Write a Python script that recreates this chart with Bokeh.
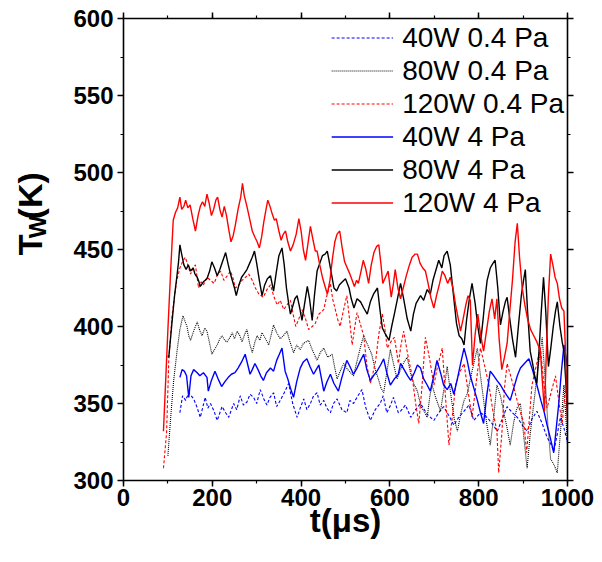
import math
from bokeh.plotting import figure
from bokeh.layouts import row
from bokeh.models import Range1d, SingleIntervalTicker, LinearAxis, Legend, LegendItem, Label
from bokeh.embed import file_html
from bokeh.resources import INLINE

# ---------------- data ----------------
t_40w_04 = [127,133,140,147,158,165,173,184,190,196,204,211,222,230,237,248,255,263,270,278,285,293,300,308,316,323,330,338,345,353,362,372,381,391,398,406,413,421,428,436,443,451,458,466,473,481,492,503,510,518,528,537,546,556,567,578,585,593,600,608,619,624,635,647,658,669,684,699,710,721,733,744,755,767,778,789,804,819,830,842,853,864,876,887,898,909,920,931,943,954,962,969,977,984,992,1000]
y_40w_04 = [344,355,352,357,353,348,341,354,347,350,345,339,348,344,341,350,346,355,349,351,356,354,350,359,353,349,354,357,348,352,357,363,350,341,347,353,346,350,355,357,349,352,347,344,350,353,346,344,352,350,355,359,347,339,346,350,355,344,348,354,344,345,349,341,346,350,343,339,344,348,342,336,341,345,349,339,344,341,337,332,340,348,344,341,336,332,340,345,337,328,324,319,330,341,334,325]

t_80w_04 = [100,106,113,121,127,134,139,143,147,151,158,166,171,177,183,188,194,199,205,211,217,222,228,233,240,245,250,256,262,267,273,278,284,290,296,301,307,312,320,327,333,338,345,353,360,368,375,383,390,398,405,417,425,436,443,451,460,470,476,481,488,496,505,518,528,535,541,550,559,567,574,580,586,594,601,608,616,624,632,639,647,655,662,670,677,684,690,695,703,714,722,729,737,745,752,760,767,774,785,797,804,812,819,826,834,841,849,856,864,871,879,886,894,901,909,916,924,933,943,950,956,962,970,977,985,992,1000]
y_80w_04 = [316,340,365,385,398,407,403,400,394,391,397,403,398,394,399,397,389,382,385,388,392,394,391,390,393,396,392,397,394,390,395,398,389,383,390,394,391,396,392,388,395,401,396,392,394,397,390,383,388,385,389,391,385,378,383,386,380,382,373,366,371,376,372,368,380,388,394,388,382,372,366,360,357,372,385,376,366,372,377,380,369,362,358,348,345,341,355,362,354,345,360,374,356,340,332,344,352,356,371,386,368,350,335,323,342,362,355,345,334,323,338,347,350,330,308,330,350,372,393,365,335,314,310,305,335,362,323]

t_120w_04 = [90,97,102,109,115,120,127,133,139,145,151,157,162,169,175,180,188,196,204,211,219,226,234,241,247,252,260,267,275,282,290,297,305,315,323,331,338,346,353,361,368,376,382,388,395,402,410,417,425,432,440,451,458,466,471,477,483,488,495,503,509,515,520,526,533,541,548,556,562,568,575,583,589,594,602,610,615,619,625,631,640,650,658,665,672,680,690,699,708,718,725,733,740,748,757,767,776,785,795,804,813,823,832,841,845,852,858,864,872,883,893,902,908,914,920,930,939,946,954,962,973,981,988,994,1000]
y_120w_04 = [308,331,378,406,420,430,438,442,445,440,434,438,440,425,429,427,432,430,428,433,436,430,433,436,431,425,427,430,432,434,430,425,421,419,424,427,420,414,417,411,414,417,408,400,405,411,405,398,400,402,408,411,420,428,418,411,404,400,410,420,405,388,398,409,402,394,375,363,370,378,395,408,398,386,390,393,384,376,388,397,382,368,350,337,360,393,378,362,375,386,355,323,340,362,370,376,358,341,365,386,375,362,345,332,305,330,360,376,368,356,345,337,318,340,362,375,386,365,347,356,368,350,337,355,362]

t_40w_4 = [127,132,137,142,147,152,158,166,172,180,188,191,198,206,213,221,228,236,243,251,258,266,274,280,285,290,296,303,309,315,322,331,338,345,351,357,364,370,376,383,390,398,405,413,420,428,434,440,446,451,458,466,474,484,491,497,503,510,518,526,534,541,548,556,563,571,579,586,593,601,610,619,624,632,640,647,655,662,669,676,684,691,699,706,714,721,729,737,744,752,760,767,774,781,789,797,804,811,818,826,834,841,849,857,864,871,879,887,894,903,913,921,931,940,947,954,961,969,975,980,986,992,1000]
y_40w_4 = [367,372,371,368,354,368,372,370,368,370,367,358,365,371,366,361,364,367,369,370,373,377,382,375,369,372,376,372,368,365,370,373,371,378,382,386,371,366,360,354,364,373,377,379,374,369,372,375,366,358,364,369,363,358,366,372,378,374,369,373,378,382,372,365,368,371,375,379,370,362,366,369,376,372,368,365,370,375,373,366,362,358,368,378,370,362,359,363,356,366,377,386,378,368,360,352,344,337,355,371,368,365,362,358,355,352,360,368,373,376,379,372,362,352,345,336,328,318,335,349,370,388,374]

t_80w_4 = [100,102,110,115,120,124,127,131,136,141,146,151,157,161,166,170,173,180,188,194,199,205,211,217,224,230,236,241,245,250,254,260,266,271,278,284,290,295,300,306,312,318,324,331,338,344,350,357,362,367,372,376,381,386,391,397,402,408,414,419,425,430,436,442,448,454,459,466,474,480,486,493,500,508,513,519,526,534,541,549,556,563,572,578,583,590,598,604,610,617,624,631,639,647,653,659,669,676,684,691,697,704,710,717,722,729,736,744,750,756,762,767,773,779,785,792,798,804,810,815,819,826,832,837,843,849,855,860,864,870,876,883,890,896,901,905,910,916,922,926,931,936,941,946,951,957,962,968,973,977,983,988,992,996,1000]
y_80w_4 = [381,380,405,420,432,442,453,447,440,437,440,436,438,434,432,429,426,429,431,436,442,438,433,437,443,448,440,434,430,425,420,427,432,434,437,441,445,449,441,430,420,427,431,433,423,435,446,451,440,425,415,408,413,418,420,412,404,415,426,418,404,420,436,441,446,447,449,438,425,423,427,429,431,425,418,412,418,416,412,408,416,421,425,410,399,395,391,400,408,418,428,418,405,397,408,415,420,417,424,421,430,437,443,438,446,449,440,418,402,394,392,388,405,418,428,415,400,389,405,420,430,438,441,443,425,401,410,416,419,405,392,380,402,420,430,437,410,384,375,368,363,385,410,432,410,374,385,400,410,416,400,390,384,365,342]

t_120w_4 = [90,95,100,106,112,117,122,127,131,136,140,145,150,156,162,168,173,178,183,188,193,198,203,208,212,217,222,227,232,237,242,247,252,258,264,268,272,278,284,290,296,301,306,311,316,321,325,330,335,340,344,350,355,360,365,370,376,382,389,395,400,405,410,416,421,427,432,436,442,448,454,459,465,471,476,481,487,492,498,504,510,515,520,525,529,535,540,546,552,558,564,570,575,580,584,590,596,603,608,612,618,624,630,637,644,650,657,662,668,674,680,686,692,699,705,712,718,724,730,736,742,748,754,759,765,771,776,781,786,792,798,804,811,818,824,830,836,841,846,852,858,864,870,876,882,887,892,898,904,910,917,924,931,939,943,948,952,957,962,967,972,977,982,987,992,996,1000]
y_120w_4 = [332,365,398,435,469,474,477,484,476,478,482,477,479,470,462,472,478,481,478,486,480,472,476,482,484,476,471,478,472,463,455,459,466,476,484,493,485,478,470,462,458,455,451,458,468,476,482,478,473,469,470,462,456,460,462,455,449,453,460,470,462,450,443,455,465,456,449,449,440,432,426,421,430,445,455,460,462,452,442,438,434,430,426,430,428,436,443,437,428,440,448,452,453,440,428,432,436,419,428,437,425,418,425,433,440,445,447,447,441,438,436,428,419,412,420,428,436,433,428,432,425,414,405,397,405,414,420,417,375,395,408,395,384,398,410,418,405,418,392,372,380,389,410,430,455,467,445,425,414,405,398,394,390,384,366,345,380,420,447,440,432,428,418,412,410,380,338]

labels = ["40W 0.4 Pa", "80W 0.4 Pa", "120W 0.4 Pa", "40W 4 Pa", "80W 4 Pa", "120W 4 Pa"]
x_label = "t(μs)"
y_label_parts = ["T", "W", "(K)"]
x_ticks_interval = 200
y_ticks_interval = 50

FONT = "Liberation Sans"
H = 560
LEFT_W = 70

# ---------------- main figure ----------------
p = figure(width=600 - LEFT_W, height=H, output_backend="svg", toolbar_location=None,
           x_range=Range1d(0, 1000), y_range=Range1d(300, 600),
           min_border_left=123 - LEFT_W, min_border_right=33, min_border_top=18,
           min_border_bottom=H - 18 - 462)
p.grid.visible = False
p.outline_line_color = None
p.background_fill_color = "white"


def style_axis(ax, interval, show_labels):
    ax.ticker = SingleIntervalTicker(interval=interval, num_minor_ticks=2)
    ax.axis_line_width = 1.6
    ax.axis_line_color = "black"
    ax.major_tick_line_width = 1.5
    ax.minor_tick_line_width = 1.2
    ax.major_tick_out = 6
    ax.major_tick_in = 0
    ax.minor_tick_out = 3
    ax.minor_tick_in = 0
    ax.major_label_text_font = FONT
    ax.major_label_text_font_style = "bold"
    if show_labels:
        ax.major_label_text_color = "black"
        ax.major_label_text_font_size = "24px"
    else:
        ax.major_label_text_color = None
        ax.major_label_text_font_size = "1px"
        ax.major_label_standoff = 0


style_axis(p.xaxis[0], x_ticks_interval, True)
style_axis(p.yaxis[0], y_ticks_interval, True)
p.xaxis[0].major_label_standoff = 2
p.yaxis[0].major_label_standoff = 4

p.xaxis[0].axis_label = x_label
p.xaxis[0].axis_label_text_font = FONT
p.xaxis[0].axis_label_text_font_style = "bold"
p.xaxis[0].axis_label_text_font_size = "33px"
p.xaxis[0].axis_label_text_color = "black"
p.xaxis[0].axis_label_standoff = -7

top = LinearAxis()
style_axis(top, x_ticks_interval, False)
p.add_layout(top, "above")
right = LinearAxis()
style_axis(right, y_ticks_interval, False)
p.add_layout(right, "right")

# ---------------- lines ----------------
r1 = p.line(t_40w_04, y_40w_04, line_color="#0000ff", line_width=1.1, line_dash="3 2")
r2 = p.line(t_80w_04, y_80w_04, line_color="#000000", line_width=1.1, line_dash="1 1")
r3 = p.line(t_120w_04, y_120w_04, line_color="#ff0000", line_width=1.1, line_dash="3 2")
r4 = p.line(t_40w_4, y_40w_4, line_color="#0000ff", line_width=1.4)
r5 = p.line(t_80w_4, y_80w_4, line_color="#000000", line_width=1.4)
r6 = p.line(t_120w_4, y_120w_4, line_color="#ff0000", line_width=1.4)

legend = Legend(items=[LegendItem(label=l, renderers=[r]) for l, r in zip(labels, [r1, r2, r3, r4, r5, r6])],
                location="top_right", border_line_color=None, background_fill_alpha=0,
                label_text_font=FONT, label_text_font_size="28px", label_text_color="black",
                glyph_width=62, glyph_height=33, label_height=33, label_standoff=9,
                spacing=0, padding=2, margin=3)
p.add_layout(legend)

# ---------------- left strip holding the rotated y title T_W(K) ----------------
q = figure(width=LEFT_W, height=H, output_backend="svg", toolbar_location=None,
           x_range=Range1d(0, LEFT_W), y_range=Range1d(H, 0),
           x_axis_location=None, y_axis_location=None,
           min_border_left=0, min_border_right=0, min_border_top=0, min_border_bottom=0)
q.grid.visible = False
q.outline_line_color = None

big = 34
small = 24
start_y = 287
base_x = 29
w_T = 0.611 * big
w_W = 0.944 * small
common = dict(angle=math.pi / 2, text_font=FONT, text_font_style="bold",
              text_color="black", text_align="left", text_baseline="alphabetic")
q.add_layout(Label(x=base_x, y=start_y, text=y_label_parts[0], text_font_size=f"{big}px", **common))
q.add_layout(Label(x=base_x + 8, y=start_y - w_T, text=y_label_parts[1], text_font_size=f"{small}px", **common))
q.add_layout(Label(x=base_x, y=start_y - w_T - w_W, text=y_label_parts[2], text_font_size=f"{big}px", **common))

layout = row(q, p, spacing=0)
open("out.html", "w").write(file_html(layout, INLINE))
